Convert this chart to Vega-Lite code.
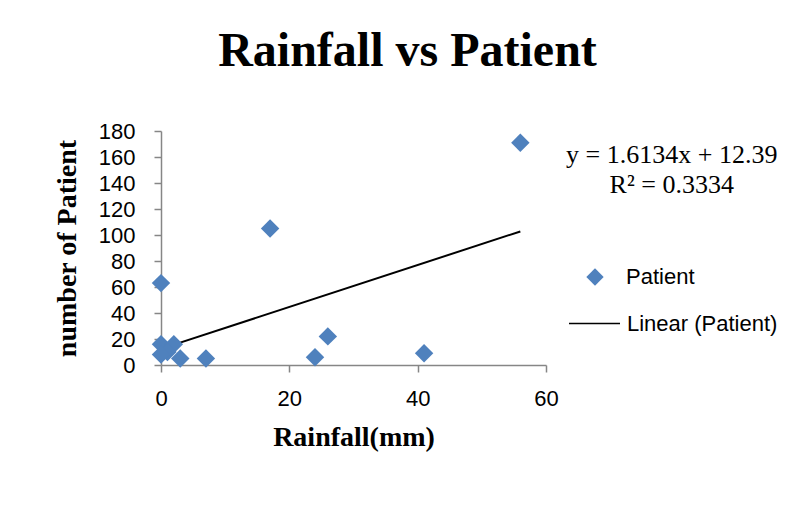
{
  "$schema": "https://vega.github.io/schema/vega-lite/v6.json",
  "autosize": {"type": "none"},
  "padding": {"left": 161, "top": 131, "right": 250, "bottom": 145},
  "width": 385,
  "height": 234,
  "background": "white",
  "title": {
    "text": "Rainfall vs Patient",
    "font": "Liberation Serif",
    "fontSize": 48,
    "fontWeight": "bold",
    "color": "#000000",
    "anchor": "middle",
    "baseline": "alphabetic",
    "dx": 54,
    "offset": 6
  },
  "datasets": {
    "observations": [
      {"Rainfall": 56, "Patient": 171, "series": "Patient"},
      {"Rainfall": 17, "Patient": 105, "series": "Patient"},
      {"Rainfall": 0, "Patient": 63, "series": "Patient"},
      {"Rainfall": 0, "Patient": 16, "series": "Patient"},
      {"Rainfall": 2, "Patient": 16, "series": "Patient"},
      {"Rainfall": 1, "Patient": 10, "series": "Patient"},
      {"Rainfall": 0, "Patient": 8, "series": "Patient"},
      {"Rainfall": 3, "Patient": 5, "series": "Patient"},
      {"Rainfall": 7, "Patient": 5, "series": "Patient"},
      {"Rainfall": 24, "Patient": 6, "series": "Patient"},
      {"Rainfall": 26, "Patient": 22, "series": "Patient"},
      {"Rainfall": 41, "Patient": 9, "series": "Patient"}
    ],
    "trend": [
      {"Rainfall": 0, "Patient": 12.39, "series": "Linear (Patient)"},
      {"Rainfall": 56, "Patient": 102.74, "series": "Linear (Patient)"}
    ],
    "equation": [
      {"label": "y = 1.6134x + 12.39\nR² = 0.3334"}
    ]
  },
  "layer": [
    {
      "data": {"name": "trend"},
      "mark": {"type": "line", "strokeWidth": 2},
      "encoding": {
        "x": {
          "field": "Rainfall",
          "type": "quantitative",
          "scale": {"domain": [0, 60], "nice": false, "zero": false},
          "axis": {"values": [0, 20, 40, 60], "title": "Rainfall(mm)", "labelPadding": 16, "titlePadding": 14, "labelOverlap": false, "labelFlush": false}
        },
        "y": {
          "field": "Patient",
          "type": "quantitative",
          "scale": {"domain": [0, 180], "nice": false, "zero": false},
          "axis": {"values": [0, 20, 40, 60, 80, 100, 120, 140, 160, 180], "title": "number of Patient", "labelPadding": 19, "titlePadding": 17, "labelOverlap": false, "labelFlush": false}
        },
        "stroke": {
          "field": "series",
          "type": "nominal",
          "scale": {"domain": ["Linear (Patient)"], "range": ["#000000"]},
          "legend": {
            "orient": "none",
            "legendX": 407,
            "legendY": 166,
            "title": null,
            "padding": 0,
            "symbolType": "stroke",
            "symbolSize": 2601,
            "symbolStrokeWidth": 1.5,
            "labelOffset": 6,
            "labelFont": "Liberation Sans",
            "labelFontSize": 22,
            "labelColor": "#000000",
            "labelLimit": 300
          }
        }
      }
    },
    {
      "data": {"name": "observations"},
      "mark": {"type": "point", "shape": "diamond", "filled": true, "size": 340, "opacity": 1},
      "encoding": {
        "x": {
          "field": "Rainfall",
          "type": "quantitative",
          "scale": {"domain": [0, 60], "nice": false, "zero": false},
          "axis": {"values": [0, 20, 40, 60], "title": "Rainfall(mm)", "labelPadding": 16, "titlePadding": 14, "labelOverlap": false, "labelFlush": false}
        },
        "y": {
          "field": "Patient",
          "type": "quantitative",
          "scale": {"domain": [0, 180], "nice": false, "zero": false},
          "axis": {"values": [0, 20, 40, 60, 80, 100, 120, 140, 160, 180], "title": "number of Patient", "labelPadding": 19, "titlePadding": 17, "labelOverlap": false, "labelFlush": false}
        },
        "color": {
          "field": "series",
          "type": "nominal",
          "scale": {"domain": ["Patient"], "range": ["#4F81BD"]},
          "legend": {
            "orient": "none",
            "legendX": 423,
            "legendY": 135,
            "title": null,
            "padding": 0,
            "symbolType": "diamond",
            "symbolSize": 300,
            "labelOffset": 20,
            "labelFont": "Liberation Sans",
            "labelFontSize": 22,
            "labelColor": "#000000",
            "labelLimit": 300
          }
        }
      }
    },
    {
      "data": {"name": "equation"},
      "mark": {
        "type": "text",
        "font": "Liberation Serif",
        "fontSize": 26,
        "align": "center",
        "baseline": "alphabetic",
        "lineBreak": "\n",
        "lineHeight": 30,
        "color": "#000000",
        "clip": false
      },
      "encoding": {
        "x": {
          "datum": 79.6,
          "type": "quantitative",
          "scale": {"domain": [0, 60], "nice": false, "zero": false},
          "axis": {"values": [0, 20, 40, 60], "title": "Rainfall(mm)", "labelPadding": 16, "titlePadding": 14, "labelOverlap": false, "labelFlush": false}
        },
        "y": {
          "datum": 155.4,
          "type": "quantitative",
          "scale": {"domain": [0, 180], "nice": false, "zero": false},
          "axis": {"values": [0, 20, 40, 60, 80, 100, 120, 140, 160, 180], "title": "number of Patient", "labelPadding": 19, "titlePadding": 17, "labelOverlap": false, "labelFlush": false}
        },
        "text": {"field": "label", "type": "nominal"}
      }
    }
  ],
  "config": {
    "view": {"stroke": null},
    "axis": {
      "grid": false,
      "domainColor": "#868686",
      "tickColor": "#868686",
      "tickSize": 7,
      "domainWidth": 1.5,
      "tickWidth": 1.5,
      "labelFont": "Liberation Sans",
      "labelFontSize": 22,
      "labelColor": "#000000",
      "titleFont": "Liberation Serif",
      "titleFontSize": 28,
      "titleFontWeight": "bold",
      "titleColor": "#000000"
    }
  }
}
